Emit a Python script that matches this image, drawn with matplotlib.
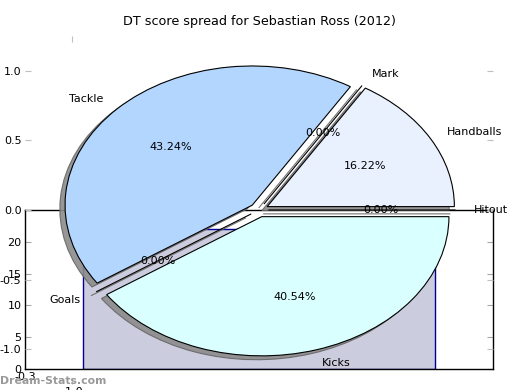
import matplotlib
matplotlib.use('Agg')
import matplotlib.pyplot as plt

plt.rcParams['axes.unicode_minus'] = False
plt.rcParams['font.family'] = 'DejaVu Sans'

# DT points per category (pie)
labels = ['Handballs', 'Mark', 'Tackle', 'Goals', 'Kicks', 'Hitout']
points = [6, 0, 16, 0, 15, 0]
colors = ['#e9f1ff', '#ffe9e9', '#b3d6ff', '#fff3d9', '#d9ffff', '#e9ffe9']
explode = [0.05] * 6

# the bar behind the pie
bar_x = [0]
bar_h = [22]
bar_yticks = [0, 5, 10, 15, 20]

fig = plt.figure(figsize=(5.2, 3.9), dpi=100)

W, H = 520.0, 390.0
ax_bar = fig.add_axes([25 / W, 21 / H, 468 / W, 159 / H])
ax_bar.bar(bar_x, bar_h, width=0.45, color='#ccccdf', edgecolor='#000099', linewidth=1)
ax_bar.set_xlim(-0.3, 0.3)
ax_bar.set_ylim(0, 25)
ax_bar.set_yticks(bar_yticks)
ax_bar.set_xticks([-0.3])
ax_bar.set_xticklabels(['-0.3'])
ax_bar.tick_params(direction='in', length=4, color='0.65', labelsize=8, pad=2.5,
                   right=True, top=False)
for s in ax_bar.spines.values():
    s.set_linewidth(1.0)

ax = fig.add_axes([25 / W, 6 / H, 468 / W, 348 / H])
ax.pie(points, labels=labels, colors=colors, explode=explode, autopct='%1.2f%%',
       shadow={'ox': -0.02, 'oy': -0.02, 'facecolor': '0.55', 'edgecolor': '0.4',
               'alpha': 0.9, 'linewidth': 0.8},
       startangle=0, wedgeprops={'linewidth': 0.8, 'edgecolor': 'black'},
       textprops={'fontsize': 8})
ax.set_aspect('auto')
ax.set_xlim(-1.25, 1.25)
ax.set_ylim(-1.25, 1.25)
ax.set_yticks([-1.0, -0.5, 0.0, 0.5, 1.0])
ax.set_yticklabels(['-1.0', '-0.5', '0.0', '0.5', '1.0'])
ax.set_xticks([-1.0])
ax.set_xticklabels(['-1.0'])
ax.tick_params(direction='in', length=4, color='0.75', labelsize=8, pad=2.5,
               right=True, top=True)
ax.set_title('DT score spread for Sebastian Ross (2012)', fontsize=9.2, pad=8)

fig.text(0.0, 9 / H, 'Dream-Stats.com', color='0.6', fontsize=7.8, fontweight='bold',
         ha='left', va='center')

fig.savefig('out.png', dpi=100)
